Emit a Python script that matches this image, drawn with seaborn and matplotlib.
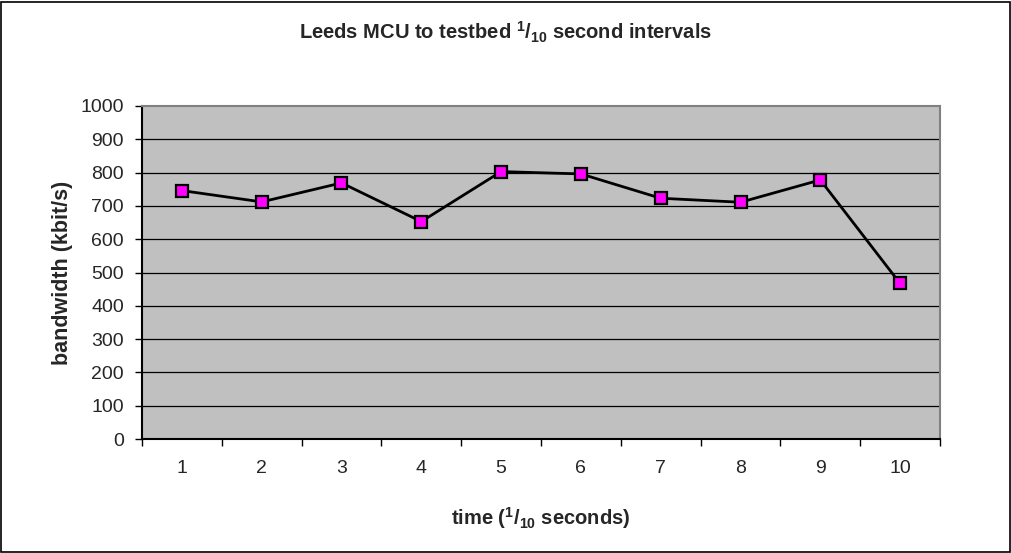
import matplotlib
matplotlib.use("Agg")
import matplotlib.pyplot as plt
import matplotlib.patches as mpatches
import numpy as np
import pandas as pd
import seaborn as sns

# data
intervals = [1, 2, 3, 4, 5, 6, 7, 8, 9, 10]
bandwidth = [746, 712, 769, 653, 803, 796, 723, 711, 778, 467]
y_ticks = [0, 100, 200, 300, 400, 500, 600, 700, 800, 900, 1000]

df = pd.DataFrame({'time': intervals, 'bandwidth': bandwidth})

sns.set_style('white')
plt.rcParams['font.family'] = ['Liberation Sans', 'DejaVu Sans']
plt.rcParams['mathtext.fontset'] = 'custom'
plt.rcParams['mathtext.rm'] = 'Liberation Sans'
plt.rcParams['mathtext.bf'] = 'Liberation Sans:bold'

fig = plt.figure(figsize=(10.12, 5.53), dpi=100)
ax = fig.add_axes([142 / 1012, 114 / 553, 798 / 1012, 333 / 553])
ax.set_facecolor('#C0C0C0')

# y gridlines
for v in y_ticks[1:-1]:
    ax.axhline(v, color='black', lw=0.9, zorder=1)

sns.lineplot(data=df, x='time', y='bandwidth', ax=ax, color='black', lw=2,
             marker='s', markersize=9, markerfacecolor='#FF00FF',
             markeredgecolor='black', markeredgewidth=1.6, zorder=3)

ax.set_xlim(0.5, 10.5)
ax.set_ylim(0, 1000)
ax.set_yticks(y_ticks)
ax.set_yticklabels([str(v) for v in y_ticks], fontsize=14)

# category boundaries carry the ticks, labels sit in between
ax.set_xticks(np.arange(0.5, 11, 1))
ax.set_xticklabels([])
ax.set_xticks(intervals, minor=True)
ax.set_xticklabels([str(i) for i in intervals], minor=True, fontsize=14)
ax.tick_params(axis='x', which='major', direction='out', length=5, width=1,
               color='black', bottom=True)
ax.tick_params(axis='x', which='minor', length=0, pad=15)
ax.tick_params(axis='y', direction='out', length=5, width=1, color='black',
               left=True, pad=8)

for side in ['left', 'bottom']:
    ax.spines[side].set_color('black')
    ax.spines[side].set_linewidth(1.5)
for side in ['top', 'right']:
    ax.spines[side].set_color('#808080')
    ax.spines[side].set_linewidth(1.5)

ax.set_xlabel(r'time ($\mathbf{^{1}/_{10}}$ seconds)', fontsize=14.5,
              fontweight='bold', labelpad=20)
ax.set_ylabel('bandwidth (kbit/s)', fontsize=15.5, fontweight='bold',
              labelpad=5)
fig.text(0.5, 1 - 32 / 553,
         r'Leeds MCU to testbed $\mathbf{^{1}/_{10}}$ second intervals',
         ha='center', va='center', fontsize=14.5, fontweight='bold')

# chart frame
fig.patches.append(mpatches.Rectangle((0.001, 0.002), 0.997, 0.995,
                                      transform=fig.transFigure, fill=False,
                                      edgecolor='black', lw=1.2))

fig.savefig('out.png', dpi=100)
